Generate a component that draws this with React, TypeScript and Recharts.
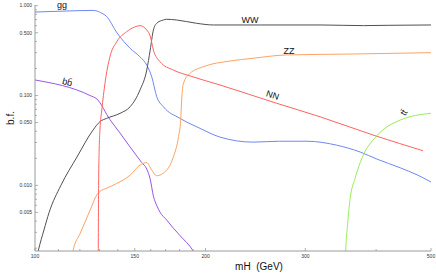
import React from 'react';
import { LineChart, Line, XAxis, YAxis, ReferenceDot } from 'recharts';

// mH (GeV) , branching fraction
const ggData: [number, number][] = [
  [100, 0.85], [112, 0.87], [126.6, 0.886], [129.5, 0.86], [131.3, 0.823], [133.5, 0.77],
  [139.6, 0.497], [147.2, 0.335], [153.2, 0.27], [157.5, 0.218], [160.7, 0.162], [164, 0.097],
  [168.5, 0.075], [180.3, 0.0557], [195.6, 0.0431], [212, 0.0345], [242.6, 0.0303], [270, 0.031],
  [302, 0.031], [341, 0.028], [375, 0.0235], [401.5, 0.0196], [441, 0.0157], [472.5, 0.0131], [500, 0.0109],
];
const bbData: [number, number][] = [
  [100, 0.149], [125.1, 0.1], [128.6, 0.0914], [135.6, 0.054], [141.3, 0.0382], [147.2, 0.0267],
  [154.3, 0.01795], [157.5, 0.0152], [159.7, 0.01175], [161.8, 0.0076], [164.2, 0.00588],
  [166.2, 0.00504], [170.8, 0.00411], [175.5, 0.00334], [180.3, 0.00276], [190.1, 0.00188], [192, 0.0017],
];
const wwData: [number, number][] = [
  [101, 0.0017], [101.4, 0.0019], [103.7, 0.00318], [105.9, 0.005], [111.1, 0.01], [118.6, 0.0207],
  [126.6, 0.0413], [130.2, 0.0512], [133.8, 0.0557], [141.3, 0.0634], [147.2, 0.075], [153.2, 0.115],
  [157.5, 0.192], [159.7, 0.321], [161.8, 0.536], [164, 0.637], [168.5, 0.693], [170.7, 0.706],
  [177.9, 0.693], [192.8, 0.637], [206.6, 0.61], [250, 0.61], [320, 0.61], [380, 0.6], [420, 0.605], [500, 0.61],
];
const zzData: [number, number][] = [
  [116.5, 0.0017], [116.8, 0.0019], [120.1, 0.0029], [125.1, 0.0053], [128.5, 0.0078], [130, 0.0085],
  [133.8, 0.0093], [139.4, 0.0105], [147.2, 0.013], [153.2, 0.0168], [157.5, 0.0179], [160.7, 0.0148],
  [164, 0.0128], [168.5, 0.0137], [175.5, 0.0208], [179.2, 0.0348], [180.8, 0.0533], [181.5, 0.089],
  [182.8, 0.137], [187.9, 0.177], [198.1, 0.209], [220.8, 0.242], [242.6, 0.26], [277.8, 0.283],
  [365, 0.29], [500, 0.3],
];
const nnData: [number, number][] = [
  [129.3, 0.0015], [129.5, 0.01], [129.8, 0.025], [130.2, 0.0413], [131.2, 0.069], [132.9, 0.137],
  [135.6, 0.27], [139.4, 0.397], [145.1, 0.513], [150, 0.58], [153.2, 0.6], [157.5, 0.536], [159.7, 0.46],
  [161.8, 0.321], [166.2, 0.238], [175.5, 0.192], [187.9, 0.165], [212.1, 0.131], [267, 0.082],
  [318.5, 0.058], [400, 0.0354], [484, 0.0243],
];
const ttData: [number, number][] = [
  [353, 0.0012], [353.6, 0.0019], [356, 0.0035], [359.7, 0.0069], [367.3, 0.012], [379.7, 0.0217],
  [400, 0.0349], [441, 0.0533], [500, 0.0634],
];

const xTicks = [100, 110, 120, 130, 140, 150, 160, 170, 180, 190, 200, 300, 400, 500];
const xMajor = [100, 150, 200, 300, 500];
const yTicks = [
  1, 0.9, 0.8, 0.7, 0.6, 0.5, 0.4, 0.3, 0.2,
  0.1, 0.09, 0.08, 0.07, 0.06, 0.05, 0.04, 0.03, 0.02,
  0.01, 0.009, 0.008, 0.007, 0.006, 0.005, 0.004, 0.003, 0.002,
];
const yMajor = [1, 0.5, 0.1, 0.05, 0.01, 0.005];

// curve names with anchor (mH, b.f.) and rotation
const curveLabels: { text: string; m: number; v: number; angle: number }[] = [
  { text: 'gg', m: 111.6, v: 0.943, angle: 0 },
  { text: 'bb\u0304', m: 113.7, v: 0.131, angle: 15 },
  { text: 'WW', m: 239.6, v: 0.642, angle: 0 },
  { text: 'ZZ', m: 280.8, v: 0.29, angle: 0 },
  { text: 'NN', m: 261.7, v: 0.094, angle: 18 },
  { text: 'tt\u0304', m: 452.7, v: 0.0621, angle: -60 },
];

const toPts = (d: [number, number][]) => d.map(([m, v]) => ({ m, v }));

const AXIS = '#9a9a9a';
const FONT = 'Liberation Sans, Arial, sans-serif';

const XTick = (props: any) => {
  const { x, y, payload } = props;
  const val = payload.value;
  const major = xMajor.includes(val);
  return (
    <g>
      <line x1={x} x2={x} y1={y} y2={y - (major ? 3 : 2)} stroke={AXIS} strokeWidth={0.8} />
      {major && (
        <text x={x} y={y + 7} textAnchor="middle" fontSize={5} fill="#333" fontFamily={FONT}>
          {val}
        </text>
      )}
    </g>
  );
};

const YTick = (props: any) => {
  const { x, y, payload } = props;
  const val = payload.value;
  const major = yMajor.some((t) => Math.abs(t - val) < 1e-9);
  return (
    <g>
      <line x1={x} x2={x + (major ? 3 : 2)} y1={y} y2={y} stroke={AXIS} strokeWidth={0.8} />
      {major && (
        <text x={x - 3} y={y + 1.8} textAnchor="end" fontSize={5} fill="#333" fontFamily={FONT}>
          {val.toFixed(3)}
        </text>
      )}
    </g>
  );
};

const series = [
  { name: 'gg', data: ggData, color: '#7186f5' },
  { name: 'bb', data: bbData, color: '#9a55e8' },
  { name: 'WW', data: wwData, color: '#505050' },
  { name: 'ZZ', data: zzData, color: '#ffa264' },
  { name: 'NN', data: nnData, color: '#ff6262' },
  { name: 'tt', data: ttData, color: '#9aec5a' },
];

export default function App() {
  return (
    <div style={{ position: 'absolute', left: 0, top: 0 }}>
      <LineChart width={436} height={274} margin={{ top: 5, right: 5, bottom: 0, left: 0 }}>
        <XAxis
          dataKey="m"
          type="number"
          scale="log"
          domain={[100, 500]}
          allowDataOverflow
          ticks={xTicks}
          interval={0}
          tickLine={false}
          tickSize={0}
          tickMargin={0}
          height={23}
          stroke={AXIS}
          tick={<XTick />}
          label={(p: any) => {
            const vb = p.viewBox;
            return (
              <text x={vb.x + 224} y={vb.y + 19} textAnchor="middle" fontSize={10} fill="#111" fontFamily={FONT}>
                {'mH\u00a0\u00a0(GeV)'}
              </text>
            );
          }}
        />
        <YAxis
          dataKey="v"
          type="number"
          scale="log"
          domain={[0.00186, 1.018]}
          allowDataOverflow
          ticks={yTicks}
          interval={0}
          tickLine={false}
          tickSize={0}
          tickMargin={0}
          width={35}
          stroke={AXIS}
          tick={<YTick />}
          label={() => {
            const cx = 10;
            const cy = 118;
            return (
              <text x={cx} y={cy} textAnchor="middle" dominantBaseline="central" fontSize={10} fill="#111" fontFamily={FONT} transform={`rotate(-90 ${cx} ${cy})`}>
                b.f.
              </text>
            );
          }}
        />
        {series.map((s) => (
          <Line
            key={s.name}
            data={toPts(s.data)}
            dataKey="v"
            type="monotone"
            stroke={s.color}
            strokeWidth={1}
            dot={false}
            activeDot={false}
            isAnimationActive={false}
          />
        ))}
        {curveLabels.map((l) => (
          <ReferenceDot
            key={l.text}
            x={l.m}
            y={l.v}
            r={0}
            ifOverflow="visible"
            shape={(p: any) => (
              <text
                x={p.cx}
                y={p.cy}
                textAnchor="middle"
                fontSize={9}
                fill="#111"
                fontFamily={FONT}
                transform={l.angle ? `rotate(${l.angle} ${p.cx} ${p.cy})` : undefined}
              >
                {l.text}
              </text>
            )}
          />
        ))}
      </LineChart>
    </div>
  );
}
